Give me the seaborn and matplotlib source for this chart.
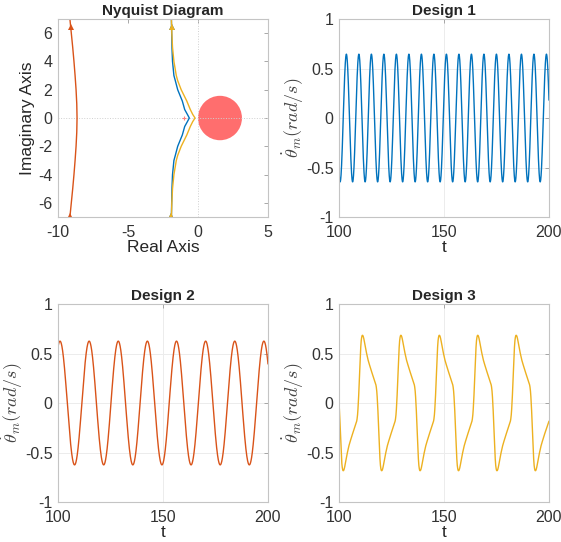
import numpy as np
import pandas as pd
import matplotlib
matplotlib.use("Agg")
import matplotlib.pyplot as plt
import seaborn as sns

red_im = [0, 1, 2, 3, 4, 5, 6, 7]
red_re = [-8.64, -8.66, -8.71, -8.78, -8.86, -8.95, -9.05, -9.15]
blue_im = [0, 0.26, 0.6, 1.2, 2.0, 2.64, 3.0, 4.0, 5.0, 6.0, 7.0]
blue_re = [-0.62, -0.76, -0.95, -1.12, -1.45, -1.62, -1.72, -1.82, -1.86, -1.88, -1.9]
yel_im = [0, 0.26, 0.6, 1.2, 2.0, 2.64, 3.0, 4.0, 5.0, 6.0, 7.0]
yel_re = [-0.21, -0.38, -0.55, -0.8, -1.2, -1.45, -1.55, -1.72, -1.82, -1.87, -1.9]
arrow_im = [6.45, -6.9]
circle_center = (1.57, 0.0)
circle_radius = 1.57

# Design 1 / 2: sinusoids, amplitude, period, time of first peak
d1_amp, d1_period, d1_peak = 0.645, 5.955, 103.5
d2_amp, d2_period, d2_peak = 0.625, 13.87, 100.95

# Design 3: half cycle starting at a trough (second half is the negative)
d3_period = 18.3
d3_first_trough = 102.1
d3_phase = [0, 0.5, 1.0, 1.6, 2.5, 3.9, 5.0, 6.0, 6.6, 7.0, 7.6, 8.2, 8.6, 8.9, 9.15]
d3_vals = [-0.69, -0.66, -0.60, -0.53, -0.44, -0.34, -0.27, -0.21, -0.16, -0.05, 0.23, 0.57, 0.665, 0.685, 0.69]

BLUE, RED, YEL = "#0072BD", "#D95319", "#EDB120"

sns.set_theme(style="white")
plt.rcParams["font.family"] = ["Liberation Sans", "DejaVu Sans"]
plt.rcParams["mathtext.fontset"] = "cm"
plt.rcParams["axes.unicode_minus"] = False

fig = plt.figure(figsize=(5.61, 5.42), dpi=100)
w, h = 0.3743, 0.3653
ax_nyq = fig.add_axes([0.1034, 0.5996, w, h])
ax1 = fig.add_axes([0.6043, 0.5996, w, h])
ax2 = fig.add_axes([0.1034, 0.0738, w, h])
ax3 = fig.add_axes([0.6043, 0.0738, w, h])


def style(ax):
    for s in ax.spines.values():
        s.set_color("#c4c4c4")
        s.set_linewidth(0.8)
    ax.tick_params(direction="in", length=3, width=0.6, color="#9a9a9a",
                   labelsize=11.5, labelcolor="#333333", top=True, right=True,
                   labeltop=False, labelright=False)
    ax.tick_params(axis="x", pad=6)
    ax.tick_params(axis="y", pad=4)


# Nyquist
def branch(im, re):
    im = np.array(im)
    re = np.array(re)
    return pd.DataFrame({"re": np.r_[re[::-1], re[1:]], "im": np.r_[-im[::-1], im[1:]]})

ax_nyq.axhline(0, color="#d0d0d0", lw=0.7, ls=":")
ax_nyq.axvline(0, color="#d0d0d0", lw=0.7, ls=":")
ax_nyq.add_patch(plt.Circle(circle_center, circle_radius, color="#ff6e6e", lw=0, zorder=1))
for im, re, c in [(red_im, red_re, RED), (blue_im, blue_re, BLUE), (yel_im, yel_re, YEL)]:
    df = branch(im, re)
    sns.lineplot(data=df, x="re", y="im", sort=False, estimator=None, color=c, lw=1, ax=ax_nyq)
    ax_nyq.plot(np.interp(np.abs(arrow_im), im, re), arrow_im, "^", color=c, ms=4, mew=0)
ax_nyq.plot([-1], [0], "+", color="#ff8080", ms=3, mew=0.8)
ax_nyq.set_xlim(-10, 5)
ax_nyq.set_ylim(-7, 7)
ax_nyq.set_xticks([-10, -5, 0, 5])
ax_nyq.set_yticks([-6, -4, -2, 0, 2, 4, 6])
ax_nyq.set_title("Nyquist Diagram", fontsize=11, fontweight="bold", pad=3)
ax_nyq.set_xlabel("Real Axis", fontsize=12.5, labelpad=0)
ax_nyq.set_ylabel("Imaginary Axis", fontsize=12.5, labelpad=2)
style(ax_nyq)

# time responses
t = np.linspace(100, 200, 4001)
y1 = d1_amp * np.cos(2 * np.pi * (t - d1_peak) / d1_period)
y2 = d2_amp * np.cos(2 * np.pi * (t - d2_peak) / d2_period)
ph = np.mod(t - d3_first_trough, d3_period)
half = d3_period / 2
y3 = np.where(ph < half, np.interp(ph, d3_phase, d3_vals),
              -np.interp(ph - half, d3_phase, d3_vals))
k = np.ones(25) / 25
y3 = np.convolve(np.r_[np.full(12, y3[0]), y3, np.full(12, y3[-1])], k, mode="valid")

for ax, y, c, title in [(ax1, y1, BLUE, "Design 1"), (ax2, y2, RED, "Design 2"), (ax3, y3, YEL, "Design 3")]:
    ax.grid(True, color="#ececec", lw=0.7)
    sns.lineplot(x=t, y=y, color=c, lw=1, ax=ax)
    ax.set_xlim(100, 200)
    ax.set_ylim(-1, 1)
    ax.set_xticks([100, 150, 200])
    ax.set_yticks([-1, -0.5, 0, 0.5, 1])
    ax.set_yticklabels(["-1", "-0.5", "0", "0.5", "1"])
    ax.set_title(title, fontsize=11, fontweight="bold", pad=3)
    ax.set_xlabel("t", fontsize=12.5, labelpad=0)
    ax.set_ylabel(r"$\dot{\theta}_m(rad/s)$", fontsize=13, color="#444444")
    ax.yaxis.set_label_coords(-0.155, 0.5)
    style(ax)

fig.savefig("out.png", dpi=100)
